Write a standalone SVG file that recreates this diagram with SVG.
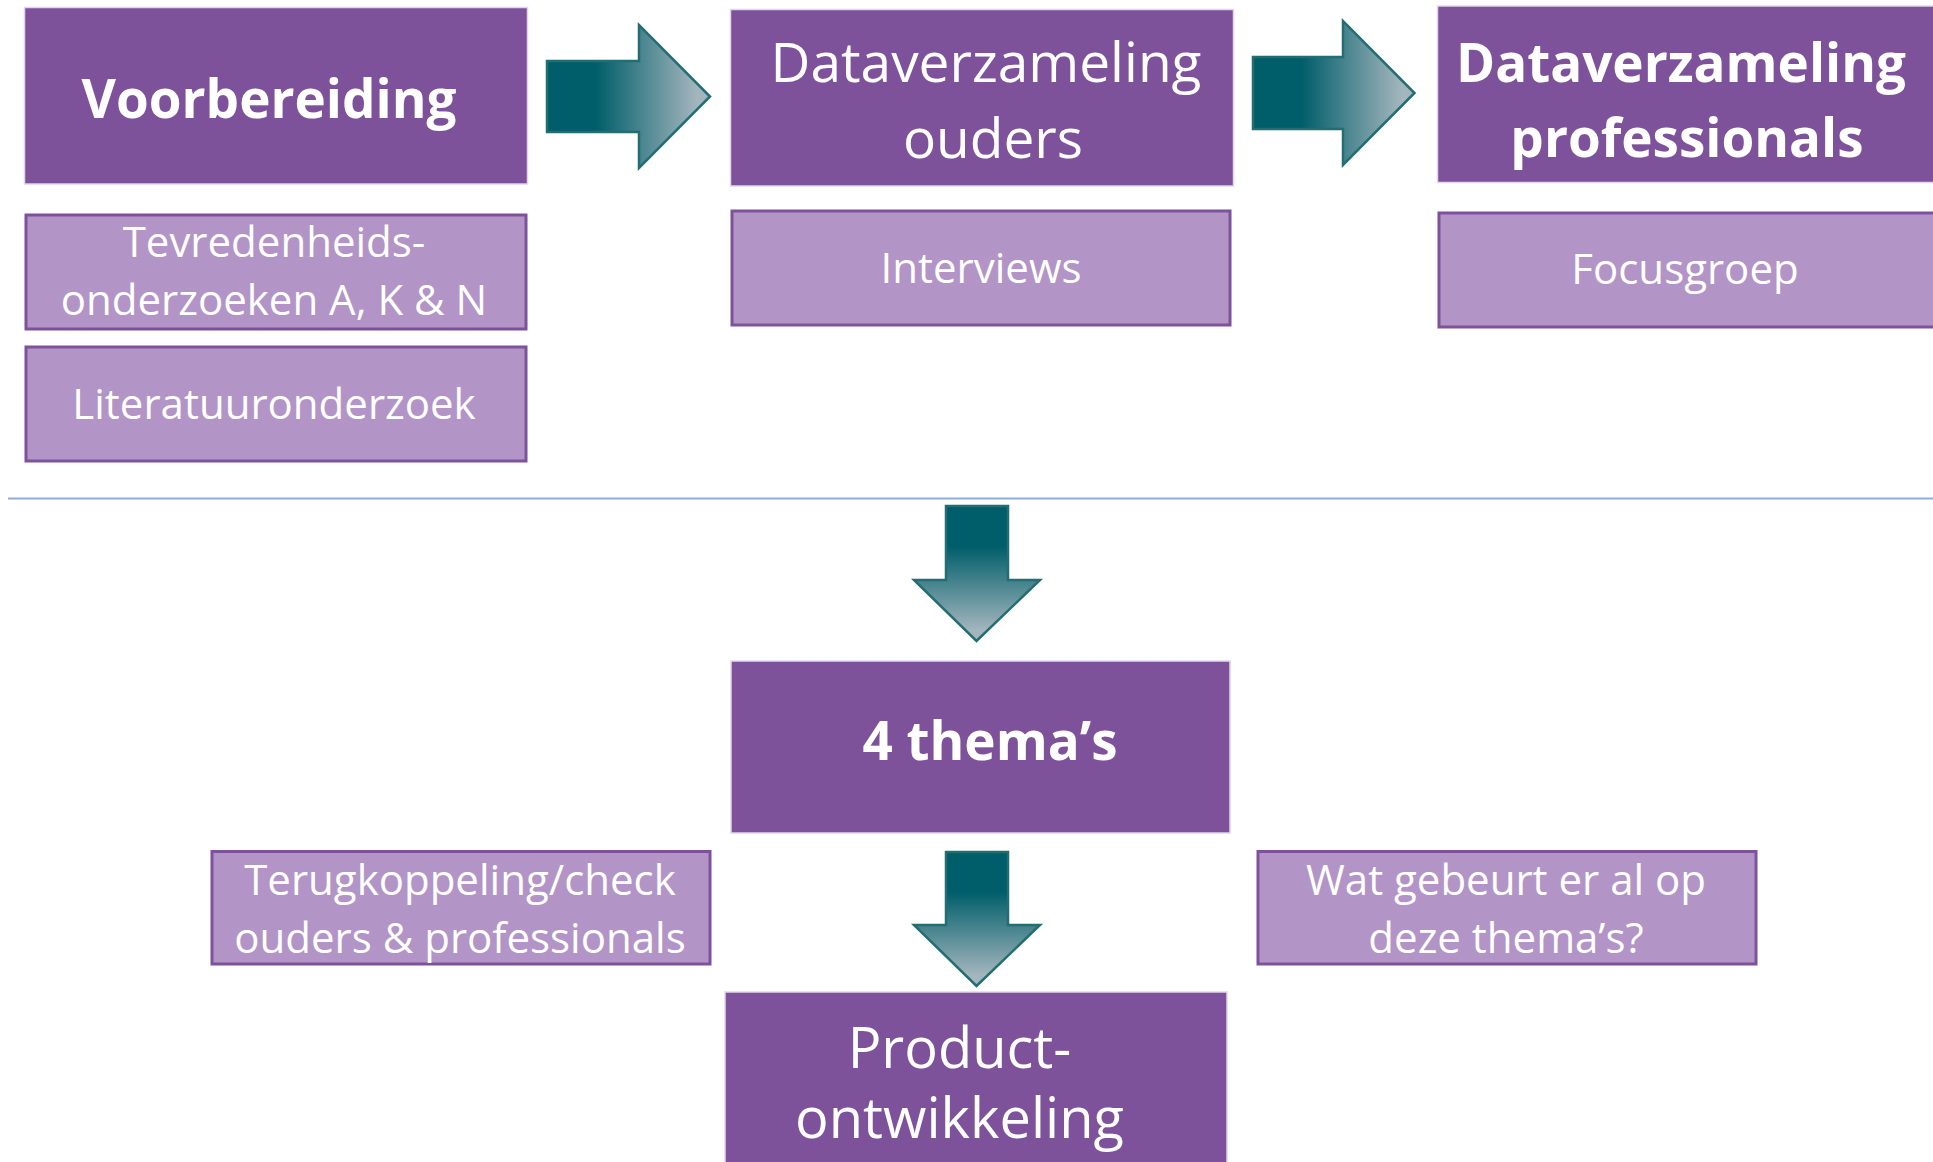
<svg xmlns="http://www.w3.org/2000/svg" width="1933" height="1162" viewBox="0 0 1933 1162">
<style>
.main{fill:#7E519B;stroke:#E2D6EB;stroke-width:1.5}
.sub{fill:#B294C7;stroke:#7E519B;stroke-width:3}
.t{font-family:"Open Sans","DejaVu Sans",sans-serif;fill:#FFFFFF;text-anchor:middle}
.b{font-weight:bold}
.arr{stroke:#236E71;stroke-width:2.5;stroke-linejoin:miter}
</style>
<defs>
<linearGradient id="gh" x1="0" y1="0" x2="1" y2="0">
<stop offset="0" stop-color="#005E6A"/>
<stop offset="0.3" stop-color="#005E6A"/>
<stop offset="0.92" stop-color="#A3B5BD"/>
<stop offset="1" stop-color="#A3B5BD"/>
</linearGradient>
<linearGradient id="gv" x1="0" y1="0" x2="0" y2="1">
<stop offset="0" stop-color="#005E6A"/>
<stop offset="0.3" stop-color="#005E6A"/>
<stop offset="0.92" stop-color="#A3B5BD"/>
<stop offset="1" stop-color="#A3B5BD"/>
</linearGradient>
</defs>
<rect width="1933" height="1162" fill="#FFFFFF"/>

<g id="connectors">
<polygon class="arr" fill="url(#gh)" points="547,61 639,61 639,25 710,96.5 639,168 639,132 547,132"/>
<polygon class="arr" fill="url(#gh)" points="1253,57 1343,57 1343,21 1414.5,93 1343,165 1343,129 1253,129"/>
<polygon class="arr" fill="url(#gv)" points="946,506 1008,506 1008,580 1040,580 976.5,641 914,580 946,580"/>
<polygon class="arr" fill="url(#gv)" points="946,852 1008,852 1008,925 1040,925 976.5,986 914,925 946,925"/>
<line x1="8" y1="498.5" x2="1933" y2="498.5" stroke="#8EAADB" stroke-width="2"/>
</g>

<g id="voorbereiding">
<rect class="main" x="24.5" y="7.5" width="503" height="176.5"/>
<text class="t b" x="269" y="118" font-size="53">Voorbereiding</text>
</g>
<g id="tevredenheid">
<rect class="sub" x="26" y="215" width="500" height="114"/>
<text class="t" x="274" y="257" font-size="42">Tevredenheids-</text>
<text class="t" x="274" y="315" font-size="42">onderzoeken A, K &amp; N</text>
</g>
<g id="literatuur">
<rect class="sub" x="26" y="347" width="500" height="114"/>
<text class="t" x="274" y="419" font-size="42">Literatuuronderzoek</text>
</g>

<g id="dataverzameling-ouders">
<rect class="main" x="730.5" y="9.5" width="503" height="176.5"/>
<text class="t" x="986" y="82" font-size="55">Dataverzameling</text>
<text class="t" x="993" y="157.5" font-size="55">ouders</text>
</g>
<g id="interviews">
<rect class="sub" x="732" y="211" width="498" height="114"/>
<text class="t" x="981" y="283" font-size="42">Interviews</text>
</g>

<g id="dataverzameling-professionals">
<rect class="main" x="1437.5" y="6" width="500" height="176.5"/>
<text class="t b" x="1681" y="82" font-size="53">Dataverzameling</text>
<text class="t b" x="1687" y="157" font-size="53">professionals</text>
</g>
<g id="focusgroep">
<rect class="sub" x="1439" y="213" width="500" height="114"/>
<text class="t" x="1685" y="284" font-size="42">Focusgroep</text>
</g>

<g id="themas">
<rect class="main" x="731" y="661" width="499" height="172"/>
<text class="t b" x="990" y="760" font-size="53">4 thema’s</text>
</g>
<g id="terugkoppeling">
<rect class="sub" x="212" y="851.5" width="498" height="112.5"/>
<text class="t" x="460" y="895" font-size="42">Terugkoppeling/check</text>
<text class="t" x="460" y="953" font-size="42">ouders &amp; professionals</text>
</g>
<g id="wat-gebeurt">
<rect class="sub" x="1258" y="851.5" width="498" height="112.5"/>
<text class="t" x="1506" y="895" font-size="42">Wat gebeurt er al op</text>
<text class="t" x="1506" y="953" font-size="42">deze thema’s?</text>
</g>
<g id="productontwikkeling">
<rect class="main" x="725" y="992" width="502" height="175"/>
<text class="t" x="959.5" y="1068" font-size="56">Product-</text>
<text class="t" x="959.5" y="1138" font-size="56">ontwikkeling</text>
</g>
</svg>
